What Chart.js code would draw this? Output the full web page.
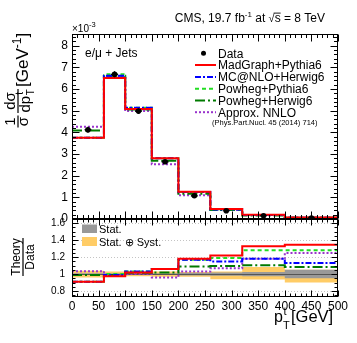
<!DOCTYPE html>
<html><head><meta charset="utf-8">
<script src="https://cdn.jsdelivr.net/npm/chart.js@4"></script>
<style>
html,body{margin:0;padding:0;background:#fff;}
#wrap{position:relative;width:357px;height:343px;background:#fff;}
canvas{position:absolute;left:0;top:0;}
</style></head><body>
<div id="wrap"><canvas id="ratio" width="357" height="343"></canvas><canvas id="main" width="357" height="343"></canvas></div>
<script>
// ---- data (x 10^-3 GeV^-1) ----
const binEdges = [0, 60, 100, 150, 200, 260, 320, 400, 500];
const dataValues = [4.12, 6.68, 4.98, 2.64, 1.07, 0.38, 0.15, 0.048];
const dataErrors = [0.14, 0.14, 0.12, 0.08, 0.05, 0.025, 0.015, 0.008];
const madgraphPythia = [3.75, 6.51, 5.08, 2.80, 1.26, 0.46, 0.20, 0.065];
const mcatnloHerwig  = [3.75, 6.61, 5.13, 2.80, 1.25, 0.44, 0.18, 0.054];
const powhegPythia   = [3.75, 6.68, 5.13, 2.80, 1.25, 0.45, 0.19, 0.061];
const powhegHerwig   = [4.08, 6.61, 5.05, 2.69, 1.17, 0.42, 0.166, 0.052];
const approxNNLO     = [4.26, 6.58, 4.98, 2.53, 1.10, 0.41, 0.18, 0.060];
// ---- ratios theory / data ----
const ratioMadgraph = [0.91, 0.975, 1.02, 1.06, 1.18, 1.22, 1.33, 1.345];
const ratioMcatnlo  = [0.91, 0.99, 1.03, 1.06, 1.17, 1.15, 1.18, 1.13];
const ratioPowPy    = [0.91, 1.00, 1.03, 1.06, 1.17, 1.19, 1.28, 1.28];
const ratioPowHw    = [0.99, 0.99, 1.015, 1.02, 1.09, 1.095, 1.105, 1.085];
const ratioNNLO     = [1.035, 0.985, 1.00, 0.96, 1.03, 1.07, 1.18, 1.25];
const statUp   = [1.01, 1.01, 1.01, 1.01, 1.015, 1.02, 1.025, 1.05];
const statDown = [0.99, 0.99, 0.99, 0.99, 0.985, 0.98, 0.975, 0.95];
const totUp    = [1.04, 1.03, 1.025, 1.03, 1.025, 1.03, 1.085, 1.05];
const totDown  = [0.96, 0.97, 0.975, 0.97, 0.97, 0.94, 0.935, 0.90];
// ---- ticks ----
const xTickValues = [0, 50, 100, 150, 200, 250, 300, 350, 400, 450, 500];
const mainTickValues = [0, 1, 2, 3, 4, 5, 6, 7, 8];
const mainTickLabels = ['0', '1', '2', '3', '4', '5', '6', '7', '8'];
const ratioTickValues = [0.8, 1, 1.2, 1.4, 1.6];
const ratioTickLabels = ['0.8', '1', '1.2', '1.4', '1.6'];

const seriesLabels = ['MadGraph+Pythia6', 'MC@NLO+Herwig6', 'Powheg+Pythia6', 'Powheg+Herwig6', 'Approx. NNLO'];
const seriesStyles = [
  {color: '#ff0000', dash: []},
  {color: '#0000ff', dash: [6, 2, 2, 2]},
  {color: '#22dd22', dash: [4, 3]},
  {color: '#007a00', dash: [10, 3, 2, 3]},
  {color: '#9933cc', dash: [2, 2]}
];
const mainSeries = [madgraphPythia, mcatnloHerwig, powhegPythia, powhegHerwig, approxNNLO];
const ratioSeries = [ratioMadgraph, ratioMcatnlo, ratioPowPy, ratioPowHw, ratioNNLO];

const FONT = '"Liberation Sans", Arial, Helvetica, sans-serif';
Chart.defaults.font.family = FONT;
Chart.defaults.color = '#000';

function stepData(vals) {
  const pts = vals.map((v, i) => ({x: binEdges[i], y: v}));
  pts.push({x: binEdges[binEdges.length - 1], y: vals[vals.length - 1]});
  return pts;
}
const binCenters = dataValues.map((v, i) => (binEdges[i] + binEdges[i + 1]) / 2);

function txt(ctx, s, x, y, size, align) {
  ctx.font = size + 'px ' + FONT;
  ctx.textAlign = align || 'left';
  ctx.textBaseline = 'alphabetic';
  ctx.fillText(s, x, y);
  return ctx.measureText(s).width;
}
function rich(ctx, segs, x, y, alignRight) {
  let w = 0;
  segs.forEach(sg => { ctx.font = sg.s + 'px ' + FONT; w += ctx.measureText(sg.t).width; });
  let cx = alignRight ? x - w : x;
  segs.forEach(sg => {
    ctx.font = sg.s + 'px ' + FONT; ctx.textAlign = 'left'; ctx.textBaseline = 'alphabetic';
    ctx.fillText(sg.t, cx, y + (sg.dy || 0));
    const sw = ctx.measureText(sg.t).width;
    if (sg.over) { ctx.fillRect(cx - 1, y - sg.s * 0.78, sw + 1, 0.9); }
    cx += sw;
  });
}

// frame, inner ticks, grid
const framePlugin = {
  id: 'frame',
  beforeDatasetsDraw(chart, args, o) {
    if (!o.gridY) return;
    const {ctx, chartArea: a} = chart; const y = chart.scales.y;
    ctx.save(); ctx.strokeStyle = '#c4c4c4'; ctx.lineWidth = 1; ctx.setLineDash([1, 2]);
    o.gridY.forEach(v => { const py = Math.round(y.getPixelForValue(v)) + 0.5;
      ctx.beginPath(); ctx.moveTo(a.left, py); ctx.lineTo(a.right, py); ctx.stroke(); });
    ctx.restore();
  },
  afterDatasetDraw(chart, args, o) {
    if (o.unityAfter !== args.index) return;
    const {ctx, chartArea: a} = chart; const py = Math.round(chart.scales.y.getPixelForValue(1)) + 0.5;
    ctx.save(); ctx.strokeStyle = '#555'; ctx.lineWidth = 1;
    ctx.beginPath(); ctx.moveTo(a.left, py); ctx.lineTo(a.right, py); ctx.stroke(); ctx.restore();
  },
  afterDraw(chart, args, o) {
    const {ctx, chartArea: a} = chart; const x = chart.scales.x, y = chart.scales.y;
    ctx.save(); ctx.strokeStyle = '#000'; ctx.lineWidth = 1; ctx.setLineDash([]);
    const L = Math.round(a.left) + 0.5, R = Math.round(a.right) - 0.5, T = Math.round(a.top) + 0.5, B = Math.round(a.bottom) - 0.5;
    ctx.beginPath();
    for (let v = x.min; v <= x.max + 1e-9; v += o.xMinor) {
      const major = Math.abs(v / o.xMajor - Math.round(v / o.xMajor)) < 1e-6;
      const len = major ? o.majorLen : o.minorLen;
      const px = Math.round(x.getPixelForValue(v)) + 0.5;
      ctx.moveTo(px, B); ctx.lineTo(px, B - len);
      ctx.moveTo(px, T); ctx.lineTo(px, T + len);
    }
    const y0 = Math.ceil(y.min / o.yMinor - 1e-6) * o.yMinor;
    for (let v = y0; v <= y.max + 1e-9; v += o.yMinor) {
      const major = Math.abs(v / o.yMajor - Math.round(v / o.yMajor)) < 1e-6;
      const len = major ? o.majorLen : o.minorLen;
      const py = Math.round(y.getPixelForValue(v)) + 0.5;
      ctx.moveTo(L, py); ctx.lineTo(L + len, py);
      ctx.moveTo(R, py); ctx.lineTo(R - len, py);
    }
    ctx.stroke();
    ctx.strokeRect(L, T, R - L, B - T);
    ctx.restore();
  }
};

// data error bars
const errPlugin = {
  id: 'errbars',
  afterDatasetsDraw(chart) {
    const {ctx} = chart; const x = chart.scales.x, y = chart.scales.y;
    ctx.save(); ctx.strokeStyle = '#000'; ctx.lineWidth = 1.2;
    dataValues.forEach((v, i) => {
      const px = x.getPixelForValue(binCenters[i]);
      ctx.beginPath();
      ctx.moveTo(px, y.getPixelForValue(v - dataErrors[i])); ctx.lineTo(px, y.getPixelForValue(v + dataErrors[i]));
      ctx.moveTo(px - 3.5, y.getPixelForValue(v)); ctx.lineTo(px + 3.5, y.getPixelForValue(v));
      ctx.stroke();
    });
    ctx.restore();
  }
};

// texts of the main pad
const mainText = {
  id: 'mainText',
  afterDraw(chart) {
    const ctx = chart.ctx; ctx.save(); ctx.fillStyle = '#000';
    // header
    rich(ctx, [{t: 'CMS, 19.7 fb', s: 12}, {t: '-1', s: 8, dy: -5}, {t: ' at ', s: 12}, {t: '\u221A', s: 11},
               {t: 's', s: 12, over: true}, {t: ' = 8 TeV', s: 12}], 325, 22, true);
    // x10^-3
    rich(ctx, [{t: '\u00D710', s: 10}, {t: '-3', s: 7.5, dy: -5}], 72, 32, false);
    // channel
    txt(ctx, 'e/\u03BC + Jets', 85, 57, 12);
    // legend
    const ys = [53.3, 65, 77, 88.7, 100.5, 112.2];
    chart.data.datasets.forEach((ds, i) => {
      const yc = ys[i];
      if (i === 0) { ctx.beginPath(); ctx.arc(203.5, yc, 2.5, 0, 2 * Math.PI); ctx.fill(); }
      else {
        ctx.strokeStyle = ds.borderColor; ctx.lineWidth = 2; ctx.setLineDash(ds.borderDash || []);
        ctx.beginPath(); ctx.moveTo(195, yc); ctx.lineTo(216, yc); ctx.stroke(); ctx.setLineDash([]);
      }
      txt(ctx, ds.label, 218, yc + 4.3, 12);
    });
    txt(ctx, '(Phys.Part.Nucl. 45 (2014) 714)', 212, 124.5, 7.5);
    // y title (rotated)
    ctx.translate(18, 128); ctx.rotate(-Math.PI / 2);
    txt(ctx, '1', 6.5, -3, 15, 'center');
    txt(ctx, '\u03C3', 6.5, 10, 15, 'center');
    ctx.fillRect(0.5, -0.6, 12, 1.2);
    txt(ctx, 'd\u03C3', 27, -3, 15, 'center');
    const wdp = txt(ctx, 'dp', 15.5, 12, 15);
    txt(ctx, 'T', 15.5 + wdp + 0.5, 15.5, 10);
    txt(ctx, 't', 15.5 + wdp + 1, 4.5, 10);
    ctx.fillRect(15, -0.6, 24, 1.2);
    rich(ctx, [{t: '[GeV', s: 17}, {t: '-1', s: 12, dy: -7}, {t: ']', s: 17}], 41, 10, false);
    ctx.restore();
  }
};

// texts of the ratio pad
const ratioText = {
  id: 'ratioText',
  afterDraw(chart) {
    const ctx = chart.ctx; ctx.save(); ctx.fillStyle = '#000';
    ctx.fillStyle = '#999999'; ctx.fillRect(82, 224.5, 15, 8.5);
    ctx.fillStyle = '#ffcc66'; ctx.fillRect(82, 237, 15, 9);
    ctx.fillStyle = '#000';
    txt(ctx, 'Stat.', 99, 233, 11);
    txt(ctx, 'Stat. \u2295 Syst.', 99, 245.5, 11);
    // x title
    txt(ctx, 'p', 274, 322, 16);
    txt(ctx, 't', 283.5, 315, 11);
    txt(ctx, 'T', 283, 328.5, 11);
    txt(ctx, '[GeV]', 291, 322, 16.5);
    // y title
    ctx.translate(23, 257); ctx.rotate(-Math.PI / 2);
    txt(ctx, 'Theory', 0, -3, 12, 'center');
    txt(ctx, 'Data', 0, 10.5, 12, 'center');
    ctx.fillRect(-19, -0.6, 38, 1.2);
    ctx.restore();
  }
};

// ---- main chart ----
const mainDatasets = [{
  label: 'Data',
  data: binCenters.map((c, i) => ({x: c, y: dataValues[i]})),
  showLine: false, pointRadius: 2.8, pointBackgroundColor: '#000', pointBorderWidth: 0, borderColor: '#000'
}];
mainSeries.forEach((vals, k) => mainDatasets.push({
  label: seriesLabels[k], data: stepData(vals), stepped: 'before',
  borderColor: seriesStyles[k].color, borderDash: seriesStyles[k].dash, borderWidth: 2,
  pointRadius: 0, fill: false
}));

new Chart(document.getElementById('main'), {
  type: 'line',
  data: {datasets: mainDatasets},
  options: {
    responsive: false, animation: false, devicePixelRatio: 1,
    layout: {padding: {top: 34, left: 0, right: 19, bottom: 124}},
    plugins: {legend: {display: false}, tooltip: {enabled: false},
      frame: {xMajor: 50, xMinor: 10, yMajor: 1, yMinor: 0.2, majorLen: 7, minorLen: 3.5}},
    scales: {
      x: {type: 'linear', min: 0, max: 500,
        ticks: {display: false}, grid: {display: false, drawTicks: false}, border: {display: false},
        afterFit: s => { s.height = 0; }},
      y: {type: 'linear', min: 0, max: 8.54,
        afterBuildTicks: s => { s.ticks = mainTickValues.map(v => ({value: v})); },
        ticks: {padding: 4, font: {size: 12}, callback: (v, i) => mainTickLabels[i]},
        grid: {display: false, drawTicks: false}, border: {display: false},
        afterFit: s => { s.width = 72; }}
    }
  },
  plugins: [framePlugin, errPlugin, mainText]
});

// ---- ratio chart ----
const ratioDatasets = [];
ratioSeries.forEach((vals, k) => ratioDatasets.push({
  label: seriesLabels[k], data: stepData(vals), stepped: 'before',
  borderColor: seriesStyles[k].color, borderDash: seriesStyles[k].dash, borderWidth: 2,
  pointRadius: 0, fill: false
}));
ratioDatasets.push({label: 'Stat. up', data: stepData(statUp), stepped: 'before', borderWidth: 0, borderColor: 'rgba(0,0,0,0)', backgroundColor: '#999999', pointRadius: 0, fill: '+1'});
ratioDatasets.push({label: 'Stat. down', data: stepData(statDown), stepped: 'before', borderWidth: 0, borderColor: 'rgba(0,0,0,0)', pointRadius: 0, fill: false});
ratioDatasets.push({label: 'Tot. up', data: stepData(totUp), stepped: 'before', borderWidth: 0, borderColor: 'rgba(0,0,0,0)', backgroundColor: '#ffcc66', pointRadius: 0, fill: '+1'});
ratioDatasets.push({label: 'Tot. down', data: stepData(totDown), stepped: 'before', borderWidth: 0, borderColor: 'rgba(0,0,0,0)', pointRadius: 0, fill: false});

new Chart(document.getElementById('ratio'), {
  type: 'line',
  data: {datasets: ratioDatasets},
  options: {
    responsive: false, animation: false, devicePixelRatio: 1,
    layout: {padding: {top: 219, left: 0, right: 19, bottom: 0}},
    plugins: {legend: {display: false}, tooltip: {enabled: false},
      frame: {xMajor: 50, xMinor: 10, yMajor: 0.2, yMinor: 0.05, majorLen: 6, minorLen: 3,
              gridY: [0.8, 1.2, 1.4, 1.6], unityAfter: 5}},
    scales: {
      x: {type: 'linear', min: 0, max: 500,
        afterBuildTicks: s => { s.ticks = xTickValues.map(v => ({value: v})); },
        ticks: {padding: 2, font: {size: 12}, maxRotation: 0, autoSkip: false},
        grid: {display: false, drawTicks: false}, border: {display: false},
        afterFit: s => { s.height = 46; }},
      y: {type: 'linear', min: 0.73, max: 1.65,
        afterBuildTicks: s => { s.ticks = ratioTickValues.map(v => ({value: v})); },
        ticks: {padding: 7, font: {size: 10}, callback: (v, i) => ratioTickLabels[i]},
        grid: {display: false, drawTicks: false}, border: {display: false},
        afterFit: s => { s.width = 72; }}
    }
  },
  plugins: [framePlugin, ratioText]
});
</script>
</body></html>
